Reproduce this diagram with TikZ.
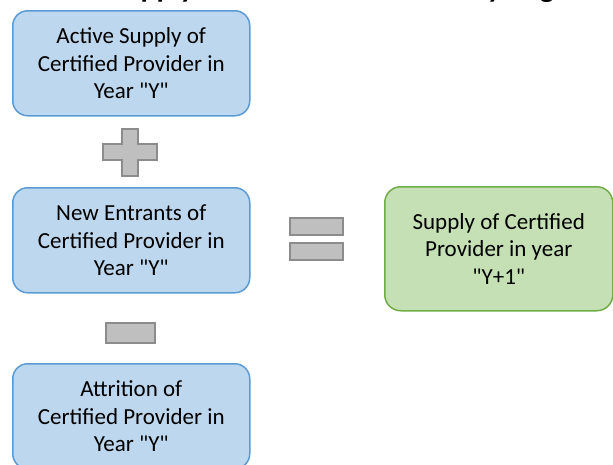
\documentclass[tikz,border=0pt]{standalone}
\usepackage{fontspec}
\setmainfont{Carlito}[Ligatures=TeXOff]
\definecolor{edgeblue}{HTML}{5B9BD5}
\definecolor{fillblue}{HTML}{BDD7EE}
\definecolor{edgegreen}{HTML}{70AD47}
\definecolor{fillgreen}{HTML}{C5E0B4}
\definecolor{signfill}{HTML}{BFBFBF}
\definecolor{signedge}{HTML}{8C8C8C}
\begin{document}
\begin{tikzpicture}[x=1pt,y=-1pt,
  boxtext/.style={align=center, text=black, font=\fontsize{23}{27.5}\selectfont},
  bluebox/.style={boxtext, draw=edgeblue, fill=fillblue, line width=1.5pt,
    rounded corners=15pt, minimum width=237pt, minimum height=105pt,
    inner sep=0pt, anchor=north west},
  greenbox/.style={boxtext, draw=edgegreen, fill=fillgreen, line width=1.5pt,
    rounded corners=16pt, minimum width=228pt, minimum height=124pt,
    inner sep=0pt, anchor=north west},
  sign/.style={draw=signedge, fill=signfill, line width=1.5pt}
]
\useasboundingbox (0,0) rectangle (613,464);
\clip (0,0) rectangle (613,464);

% heading, sitting mostly above the page edge
\node[anchor=base west, inner sep=0pt, font=\bfseries\fontsize{30}{36}\selectfont]
  (title) at (110,-3) {Supply of Certified Providers by Region};

% the three yearly terms
\node[bluebox] (active) at (12,10)
  {Active Supply of\\Certified Provider in\\Year "Y"};
\node[bluebox] (entrants) at (12,187)
  {New Entrants of\\Certified Provider in\\Year "Y"};
\node[bluebox] (attrition) at (12,363)
  {Attrition of\\Certified Provider in\\Year "Y"};

% the result
\node[greenbox] (result) at (384,186)
  {Supply of Certified\\Provider in year\\"Y+1"};

% plus sign
\draw[sign] (122,129) -- (138,129) -- (138,144) -- (157,144) -- (157,160)
  -- (138,160) -- (138,176) -- (122,176) -- (122,160) -- (103,160)
  -- (103,144) -- (122,144) -- cycle;

% minus sign
\draw[sign] (106,323) rectangle (155,343);

% equals sign
\draw[sign] (290,218) rectangle (343,235);
\draw[sign] (290,243) rectangle (343,260);
\end{tikzpicture}
\end{document}
